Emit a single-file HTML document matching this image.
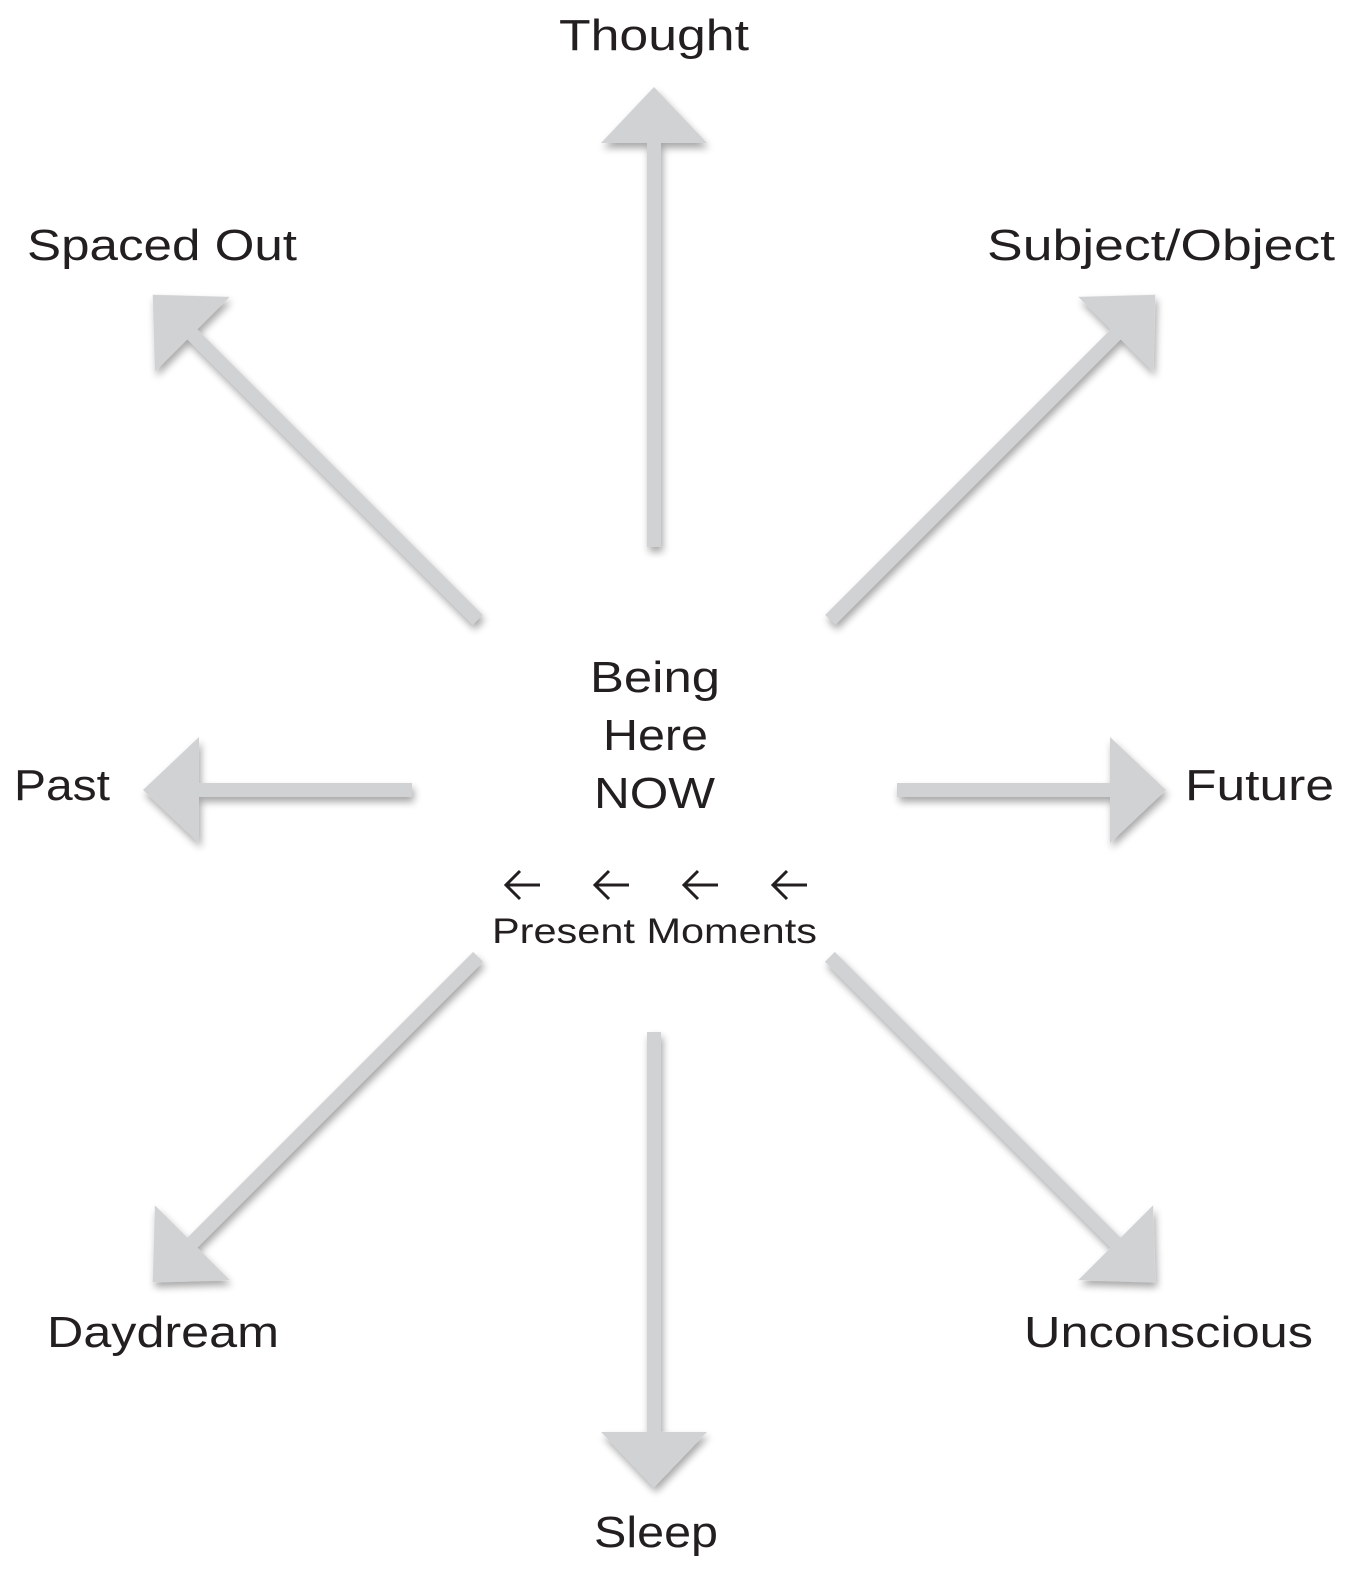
<!DOCTYPE html>
<html><head><meta charset="utf-8"><style>html,body{margin:0;padding:0;background:#fff}svg{display:block}</style></head>
<body>
<svg width="1353" height="1572" viewBox="0 0 1353 1572" xmlns="http://www.w3.org/2000/svg">
<defs>
<filter id="sh" x="-30%" y="-30%" width="160%" height="160%">
<feGaussianBlur in="SourceAlpha" stdDeviation="4"/>
<feOffset dx="2" dy="5" result="b"/>
<feComponentTransfer><feFuncA type="linear" slope="0.35"/></feComponentTransfer>
<feMerge><feMergeNode/><feMergeNode in="SourceGraphic"/></feMerge>
</filter>
<g id="a404"><rect x="0" y="-7" width="405" height="14" fill="#d1d2d4"/><polygon points="404,-53 460,0 404,53" fill="#d1d2d4"/></g>
<g id="a213"><rect x="0" y="-7" width="214" height="14" fill="#d1d2d4"/><polygon points="213,-53 269,0 213,53" fill="#d1d2d4"/></g>
</defs>
<g transform="translate(2,2)">
<g filter="url(#sh)">
<use href="#a404" transform="translate(652,545) rotate(-90)"/>
<use href="#a404" transform="translate(652,1030) rotate(90) scale(0.99,1)"/>
<use href="#a213" transform="translate(410,788) rotate(180)"/>
<use href="#a213" transform="translate(895,788)"/>
<use href="#a404" transform="translate(476,618) rotate(-135)"/>
<use href="#a404" transform="translate(828,618) rotate(-45)"/>
<use href="#a404" transform="translate(476,955) rotate(135)"/>
<use href="#a404" transform="translate(828,955) rotate(45)"/>
</g>
<g font-family="Liberation Sans, sans-serif" font-size="44" fill="#231f20">
<text x="557" y="48" textLength="190" lengthAdjust="spacingAndGlyphs">Thought</text>
<text x="25" y="258" textLength="270" lengthAdjust="spacingAndGlyphs">Spaced Out</text>
<text x="985" y="258" textLength="348" lengthAdjust="spacingAndGlyphs">Subject/Object</text>
<text x="12" y="798" textLength="96" lengthAdjust="spacingAndGlyphs">Past</text>
<text x="1183" y="798" textLength="149" lengthAdjust="spacingAndGlyphs">Future</text>
<text x="45" y="1345" textLength="232" lengthAdjust="spacingAndGlyphs">Daydream</text>
<text x="1022" y="1345" textLength="289" lengthAdjust="spacingAndGlyphs">Unconscious</text>
<text x="592" y="1545" textLength="124" lengthAdjust="spacingAndGlyphs">Sleep</text>
<text x="588" y="690" textLength="130" lengthAdjust="spacingAndGlyphs">Being</text>
<text x="601" y="748" textLength="105" lengthAdjust="spacingAndGlyphs">Here</text>
<text x="592" y="806" textLength="121" lengthAdjust="spacingAndGlyphs">NOW</text>
<text x="490" y="941" font-size="35" textLength="325" lengthAdjust="spacingAndGlyphs">Present Moments</text>
</g>
<g stroke="#231f20" stroke-width="3" fill="none">
<path d="M538,883 H504 M518,869 L504,883 L518,897"/>
<path d="M627,883 H593 M607,869 L593,883 L607,897"/>
<path d="M716,883 H682 M696,869 L682,883 L696,897"/>
<path d="M805,883 H771 M785,869 L771,883 L785,897"/>
</g>
</g>
</svg>
</body></html>
